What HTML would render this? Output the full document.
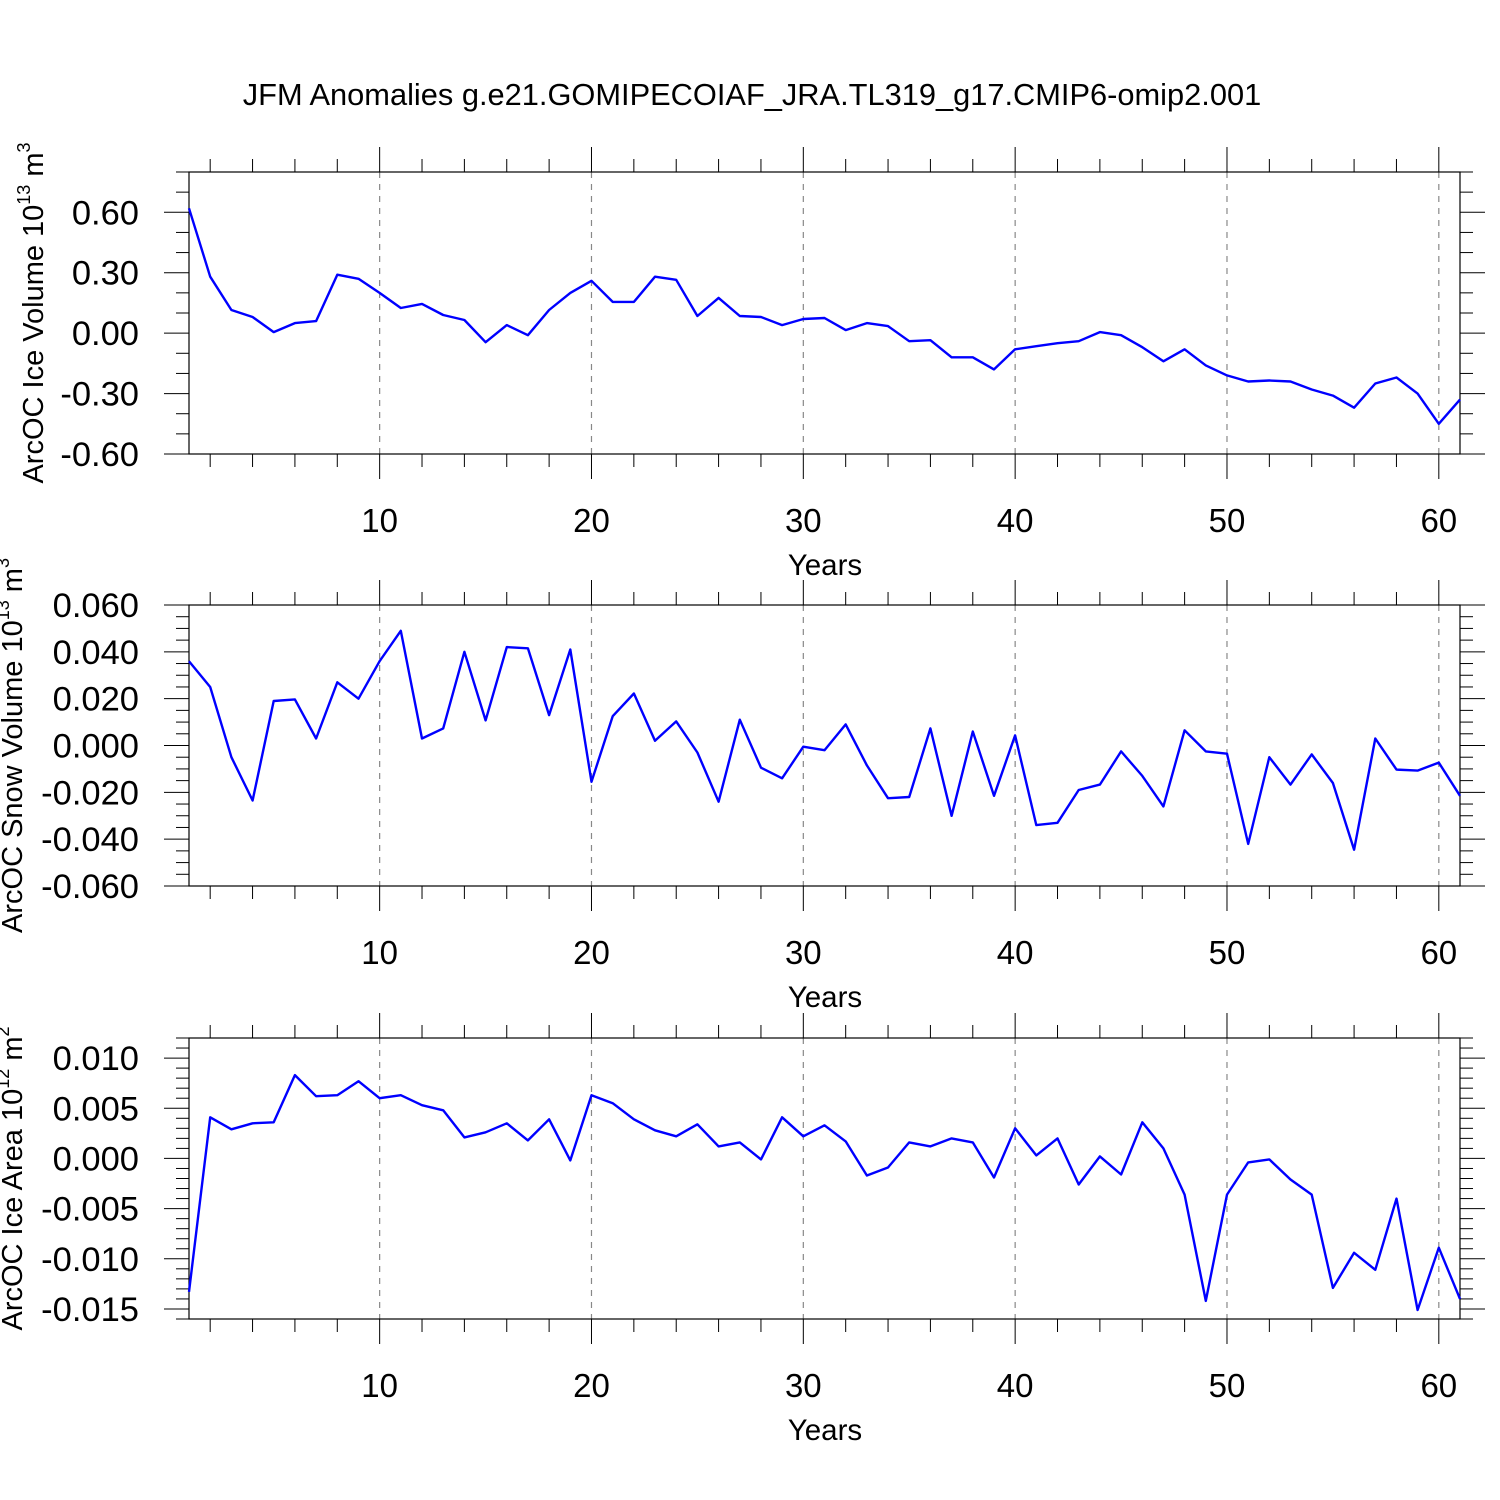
<!DOCTYPE html>
<html><head><meta charset="utf-8">
<style>
html,body{margin:0;padding:0;background:#fff;}
svg{display:block;font-family:"Liberation Sans",Arial,sans-serif;}
</style></head>
<body>
<svg id="chart" width="1500" height="1500" viewBox="0 0 1500 1500" xmlns="http://www.w3.org/2000/svg">
<rect width="1500" height="1500" fill="#fff"/>
<text x="752" y="105" font-size="30.8" text-anchor="middle">JFM Anomalies g.e21.GOMIPECOIAF_JRA.TL319_g17.CMIP6-omip2.001</text>
</svg>
<script>
const years = Array.from({length:61},(_,i)=>i+1);
const xTickLabels = ["10","20","30","40","50","60"];
const iceVolume = [0.62,0.28,0.115,0.08,0.005,0.05,0.06,0.29,0.27,0.20,0.125,0.145,0.09,0.065,-0.045,0.04,-0.01,0.115,0.2,0.26,0.155,0.155,0.28,0.265,0.085,0.175,0.085,0.08,0.04,0.07,0.075,0.015,0.05,0.035,-0.04,-0.035,-0.12,-0.12,-0.18,-0.08,-0.065,-0.05,-0.04,0.005,-0.01,-0.07,-0.14,-0.08,-0.16,-0.21,-0.24,-0.235,-0.24,-0.28,-0.31,-0.37,-0.25,-0.22,-0.3,-0.45,-0.33];
const snowVolume = [0.036,0.025,-0.005,-0.0235,0.019,0.0197,0.003,0.027,0.020,0.036,0.049,0.003,0.0073,0.040,0.0107,0.042,0.0415,0.013,0.041,-0.0155,0.0125,0.0222,0.002,0.0103,-0.003,-0.024,0.011,-0.0095,-0.014,-0.0005,-0.002,0.009,-0.0085,-0.0225,-0.022,0.0073,-0.030,0.006,-0.0215,0.0043,-0.034,-0.033,-0.019,-0.0167,-0.0025,-0.013,-0.026,0.0065,-0.0025,-0.0035,-0.042,-0.005,-0.0167,-0.0038,-0.016,-0.0445,0.003,-0.0103,-0.0107,-0.0073,-0.0215];
const iceArea = [-0.0133,0.0041,0.0029,0.0035,0.0036,0.0083,0.0062,0.0063,0.0077,0.006,0.0063,0.0053,0.0048,0.0021,0.0026,0.0035,0.0018,0.0039,-0.0002,0.0063,0.0055,0.0039,0.0028,0.0022,0.0034,0.0012,0.0016,-0.0001,0.0041,0.0022,0.0033,0.0017,-0.0017,-0.0009,0.0016,0.0012,0.002,0.0016,-0.0019,0.003,0.0003,0.002,-0.0026,0.0002,-0.0016,0.0036,0.001,-0.0036,-0.0142,-0.0036,-0.0004,-0.0001,-0.0021,-0.0036,-0.0129,-0.0094,-0.0111,-0.004,-0.0151,-0.0089,-0.014];
const iceVolTicks = ["0.60","0.30","0.00","-0.30","-0.60"];
const snowTicks = ["0.060","0.040","0.020","0.000","-0.020","-0.040","-0.060"];
const areaTicks = ["0.010","0.005","0.000","-0.005","-0.010","-0.015"];

const svg = document.getElementById('chart');
const NS = "http://www.w3.org/2000/svg";
function mk(tag, attrs, parent){
  const e = document.createElementNS(NS, tag);
  for (const k in attrs) e.setAttribute(k, attrs[k]);
  (parent||svg).appendChild(e);
  return e;
}
const L = 189, R = 1460;
const xS = v => L + (v-1)*(R-L)/60;

function panel(cfg){
  const g = mk('g', {});
  
  
  const T = cfg.top, B = cfg.bottom;
  const yS = v => B - (v-cfg.ymin)/(cfg.ymax-cfg.ymin)*(B-T);
  xTickLabels.forEach(t=>{
    const x = xS(+t);
    const gl = mk('line',{x1:x,x2:x,y1:T,y2:B,stroke:'#888','stroke-width':1.2,'stroke-dasharray':'6,6'},g);
    
    
  });
  for (let yr=2; yr<=60; yr+=2){
    const x = xS(yr); const major = yr%10===0; const len = major?25:13;
    mk('line',{x1:x,x2:x,y1:T-len,y2:T,stroke:'#000','stroke-width':1},g);
    mk('line',{x1:x,x2:x,y1:B,y2:B+len,stroke:'#000','stroke-width':1},g);
  }
  xTickLabels.forEach(t=>{
    const tx = mk('text',{x:xS(+t),y:B+78,'font-size':33,'text-anchor':'middle'},g);
    tx.textContent = t;
    
    
  });
  const xt = mk('text',{x:825,y:B+121,'font-size':29.5,'text-anchor':'middle'},g);
  xt.textContent = 'Years';
  
  
  const n = Math.round((cfg.ymax-cfg.ymin)/cfg.minor);
  for (let i=0;i<=n;i++){
    const v = cfg.ymin + i*cfg.minor;
    const y = yS(v);
    const isMajor = cfg.labels.some(l=>Math.abs(+l - v) < cfg.minor/10);
    const len = isMajor?25:13;
    mk('line',{x1:L-len,x2:L,y1:y,y2:y,stroke:'#000','stroke-width':1},g);
    mk('line',{x1:R,x2:R+len,y1:y,y2:y,stroke:'#000','stroke-width':1},g);
  }
  cfg.labels.forEach(t=>{
    const tx = mk('text',{x:139,y:yS(+t)+12,'font-size':34.5,'text-anchor':'end'},g);
    tx.textContent = t;
    
    
  });
  const fr = mk('rect',{x:L,y:T,width:R-L,height:B-T,fill:'none',stroke:'#000','stroke-width':1.2},g);
  
  
  const pts = cfg.data.map((v,i)=>xS(years[i]).toFixed(1)+','+yS(v).toFixed(1)).join(' ');
  const pl = mk('polyline',{points:pts,fill:'none',stroke:'#0000ff','stroke-width':2.4,'stroke-linejoin':'round'},g);
  
  
  const cy = (T+B)/2;
  const yt = mk('text',{transform:`translate(${cfg.tx},${cy}) rotate(-90)`,'font-size':29,'text-anchor':'middle'},g);
  
  
  yt.innerHTML = cfg.title + ' 10<tspan font-size="18" dy="-13">'+cfg.exp+'</tspan><tspan dy="13"> m</tspan><tspan font-size="18" dy="-13">'+cfg.unitExp+'</tspan>';
}

panel({name:'ice-volume-panel',top:172,bottom:454,ymin:-0.6,ymax:0.8,minor:0.1,labels:iceVolTicks,data:iceVolume,title:'ArcOC Ice Volume',exp:'13',unitExp:'3',tx:43});
panel({name:'snow-volume-panel',top:605,bottom:886,ymin:-0.06,ymax:0.06,minor:0.005,labels:snowTicks,data:snowVolume,title:'ArcOC Snow Volume',exp:'13',unitExp:'3',tx:22});
panel({name:'ice-area-panel',top:1038,bottom:1319,ymin:-0.016,ymax:0.012,minor:0.001,labels:areaTicks,data:iceArea,title:'ArcOC Ice Area',exp:'12',unitExp:'2',tx:22});
</script>
</body></html>
